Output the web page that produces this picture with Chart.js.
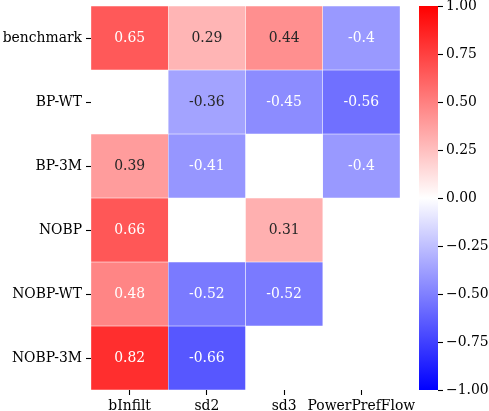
<!DOCTYPE html>
<html>
<head>
<meta charset="utf-8">
<script src="https://cdn.jsdelivr.net/npm/chart.js@4"></script>
<style>
  html, body { margin: 0; padding: 0; background: #fff; }
  #wrap { position: relative; width: 489px; height: 411px; }
  #heat { position: absolute; left: 0; top: 0; }
  #cbar { position: absolute; left: 410px; top: 0; }
</style>
</head>
<body>
<div id="wrap">
  <canvas id="heat" width="489" height="411"></canvas>
  <canvas id="cbar" width="79" height="411"></canvas>
</div>
<script>
// heatmap data (null = empty cell)
const rowLabels = ['benchmark', 'BP-WT', 'BP-3M', 'NOBP', 'NOBP-WT', 'NOBP-3M'];
const colLabels = ['bInfilt', 'sd2', 'sd3', 'PowerPrefFlow'];
const benchmark = [0.65, 0.29, 0.44, -0.4];
const bpWT = [null, -0.36, -0.45, -0.56];
const bp3M = [0.39, -0.41, null, -0.4];
const nobp = [0.66, null, 0.31, null];
const nobpWT = [0.48, -0.52, -0.52, null];
const nobp3M = [0.82, -0.66, null, null];
const rows = [benchmark, bpWT, bp3M, nobp, nobpWT, nobp3M];
const cbarTicks = [-1, -0.75, -0.5, -0.25, 0, 0.25, 0.5, 0.75, 1];

const FONT = { family: 'DejaVu Serif', size: 13.9 };

// bwr colormap, vmin -1, vmax 1
function bwr(v) {
  let r, g, b;
  if (v >= 0) { r = 1; g = b = 1 - v; } else { b = 1; r = g = 1 + v; }
  return [r, g, b];
}
function toCss(c) {
  return 'rgb(' + c.map(x => Math.round(x * 255)).join(',') + ')';
}
function textColor(v) {
  const lin = bwr(v).map(x => x <= 0.03928 ? x / 12.92 : Math.pow((x + 0.055) / 1.055, 2.4));
  const lum = 0.2126 * lin[0] + 0.7152 * lin[1] + 0.0722 * lin[2];
  return lum > 0.408 ? '#262626' : '#ffffff';
}

const datasets = rows.map((vals, i) => ({
  label: rowLabels[i],
  data: vals.map(v => v === null ? null : [i, i + 1]),
  backgroundColor: vals.map(v => v === null ? 'rgba(0,0,0,0)' : toCss(bwr(v))),
  borderColor: '#ffffff',
  borderWidth: 0.5,
  borderSkipped: false,
  grouped: false,
  barPercentage: 1,
  categoryPercentage: 1
}));

// write values in the middle of each cell
const annotate = {
  id: 'annotate',
  afterDatasetsDraw(chart) {
    const ctx = chart.ctx;
    ctx.save();
    ctx.font = FONT.size + 'px "' + FONT.family + '"';
    ctx.textAlign = 'center';
    ctx.textBaseline = 'middle';
    rows.forEach((vals, i) => {
      const meta = chart.getDatasetMeta(i);
      vals.forEach((v, j) => {
        if (v === null) return;
        const bar = meta.data[j];
        ctx.fillStyle = textColor(v);
        ctx.fillText(String(v), bar.x, (bar.y + bar.base) / 2);
      });
    });
    ctx.restore();
  }
};

new Chart(document.getElementById('heat'), {
  type: 'bar',
  data: { labels: colLabels, datasets: datasets },
  options: {
    responsive: false,
    animation: false,
    layout: { padding: { top: 6, right: 89, left: 0, bottom: 0 } },
    plugins: { legend: { display: false }, tooltip: { enabled: false } },
    scales: {
      x: {
        type: 'category',
        offset: true,
        afterFit: s => { s.height = 21; s.paddingLeft = 0; s.paddingRight = 0; },
        grid: { display: true, drawOnChartArea: false, offset: false, tickLength: 5, tickWidth: 1.1, tickColor: '#000' },
        border: { display: false },
        ticks: { color: '#000', font: FONT, padding: 3, maxRotation: 0, autoSkip: false }
      },
      y: {
        type: 'linear',
        min: 0,
        max: rowLabels.length,
        reverse: true,
        afterFit: s => { s.width = 91; s.paddingTop = 0; s.paddingBottom = 0; },
        afterBuildTicks: s => { s.ticks = rowLabels.map((_, i) => ({ value: i + 0.5 })); },
        grid: { display: true, drawOnChartArea: false, tickLength: 5, tickWidth: 1.1, tickColor: '#000' },
        border: { display: false },
        ticks: {
          color: '#000',
          font: FONT,
          padding: 4,
          callback: v => rowLabels[Math.floor(v)]
        }
      }
    }
  },
  plugins: [annotate]
});

// colorbar
new Chart(document.getElementById('cbar'), {
  type: 'bar',
  data: {
    labels: [''],
    datasets: [{
      data: [[-1, 1]],
      backgroundColor: ctx => {
        const area = ctx.chart.chartArea;
        if (!area) return 'rgba(0,0,0,0)';
        const ys = ctx.chart.scales.y;
        const g = ctx.chart.ctx.createLinearGradient(0, ys.getPixelForValue(1), 0, ys.getPixelForValue(-1));
        cbarTicks.forEach(t => g.addColorStop((1 - t) / 2, toCss(bwr(t))));
        return g;
      },
      borderWidth: 0,
      barPercentage: 1,
      categoryPercentage: 1
    }]
  },
  options: {
    responsive: false,
    animation: false,
    layout: { padding: { top: 6, left: 9, right: 0, bottom: 21 } },
    plugins: { legend: { display: false }, tooltip: { enabled: false } },
    scales: {
      x: { display: false },
      y: {
        position: 'right',
        min: -1,
        max: 1,
        afterFit: s => { s.width = 51; s.paddingTop = 0; s.paddingBottom = 0; },
        afterBuildTicks: s => { s.ticks = cbarTicks.map(v => ({ value: v })); },
        grid: { display: true, drawOnChartArea: false, tickLength: 5, tickWidth: 1.1, tickColor: '#000' },
        border: { display: false },
        ticks: {
          color: '#000',
          font: FONT,
          padding: 3,
          callback: v => (v < 0 ? '\u2212' : '') + Math.abs(v).toFixed(2)
        }
      }
    }
  }
});
</script>
</body>
</html>
